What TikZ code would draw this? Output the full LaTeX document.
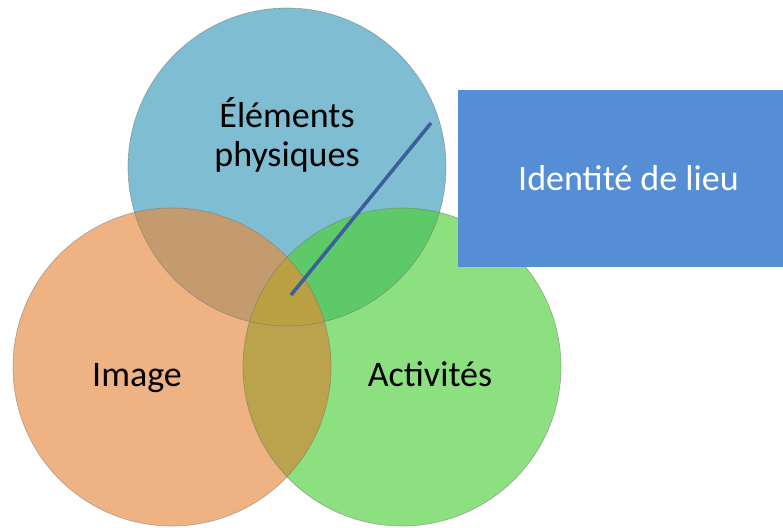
\documentclass[tikz,border=0pt]{standalone}
\usepackage{fontspec}
\setmainfont{Carlito}
\usepackage{tikz}

\definecolor{blueC}{HTML}{7EBDD2}
\definecolor{orangeC}{HTML}{EFB383}
\definecolor{greenC}{HTML}{8DE07F}
\definecolor{blueorangeC}{HTML}{C49B6F}
\definecolor{bluegreenC}{HTML}{5DC968}
\definecolor{orangegreenC}{HTML}{BBA24C}
\definecolor{allC}{HTML}{BA9F43}
\definecolor{boxC}{HTML}{558ED5}
\definecolor{lineC}{HTML}{3A5F9A}

\begin{document}
\begin{tikzpicture}[x=1pt, y=-1pt,
    rim/.style={draw=black!55, draw opacity=0.5, line width=0.7pt},
    setlabel/.style={font=\fontsize{36}{39}\selectfont, text=black, anchor=base},
    callout/.style={rectangle, fill=boxC, text=white, minimum width=325pt, minimum height=177pt, font=\fontsize{36}{40}\selectfont}]
    \useasboundingbox (0,0) rectangle (783,527);

    % Centres {phys, img, act}
    \coordinate (phys) at (287,167);
    \coordinate (img)  at (172,367);
    \coordinate (act)  at (402,367);

    % Discs
    \fill [blueC]   (phys) circle [radius=159pt];
    \fill [orangeC] (img)  circle [radius=159pt];
    \fill [greenC]  (act)  circle [radius=159pt];
    \begin{scope}
      \clip (phys) circle [radius=159pt];
      \fill [blueorangeC] (img) circle [radius=159pt];
      \fill [bluegreenC]  (act) circle [radius=159pt];
    \end{scope}
    \begin{scope}
      \clip (img) circle [radius=159pt];
      \fill [orangegreenC] (act) circle [radius=159pt];
    \end{scope}
    \begin{scope}
      \clip (phys) circle [radius=159pt];
      \clip (img) circle [radius=159pt];
      \fill [allC] (act) circle [radius=159pt];
    \end{scope}
    \draw [rim] (phys) circle [radius=159pt];
    \draw [rim] (img)  circle [radius=159pt];
    \draw [rim] (act)  circle [radius=159pt];

    % Labels
    \node [setlabel, align=center] (physlbl) at (287,166) {Éléments\\physiques};
    \node [setlabel] (imglbl) at (137,386) {Image};
    \node [setlabel] (actlbl) at (430,386) {Activités};

    % Callout
    \node [callout] (ident) at (620.5,178.5) {\hspace*{16pt}Identité de lieu};
    \coordinate (meet) at (291,295);
    \coordinate (tail) at (431,123);
    \draw [lineC, line width=3.5pt] (meet) -- (tail);

\end{tikzpicture}
\end{document}
